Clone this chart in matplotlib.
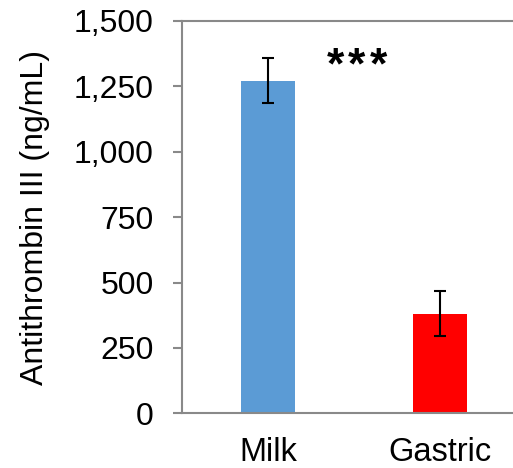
import numpy as np
import matplotlib
matplotlib.use('Agg')
import matplotlib.pyplot as plt

plt.rcParams['font.family'] = ['Liberation Sans', 'DejaVu Sans']

# ── Data ──────────────────────────────────────────────────────────────────────
groups = ['Milk', 'Gastric']
values = [1272, 381]
errors = [85, 85]
colors = ['#5B9BD5', '#FF0000']
yticks = [0, 250, 500, 750, 1000, 1250, 1500]

# ── Plot ──────────────────────────────────────────────────────────────────────
fig = plt.figure(figsize=(5.13, 4.68), dpi=100)
ax = fig.add_axes([182 / 513, 1 - 413.3 / 468, 344 / 513, 392.3 / 468])

x = np.arange(len(groups))
ax.bar(x, values, width=0.314, color=colors, zorder=2)
ax.errorbar(x, values, yerr=errors, fmt='none', ecolor='black',
            elinewidth=1.5, capsize=4.5, capthick=1.5, zorder=3)

# significance marker, letter-spaced like the original
for sx in [0.395, 0.517, 0.642]:
    ax.text(sx, 1280, '*', ha='center', va='baseline',
            fontsize=32, fontweight='bold')

ax.set_xlim(-0.5, 1.5)
ax.set_ylim(0, 1500)
ax.set_yticks(yticks)
ax.set_yticklabels([f'{v:,}' for v in yticks])
ax.set_xticks(x)
ax.set_xticklabels(groups)

gray = '#898989'
for side in ['left', 'bottom', 'top']:
    ax.spines[side].set_color(gray)
    ax.spines[side].set_linewidth(1.5)
ax.spines['right'].set_visible(False)

ax.tick_params(axis='y', direction='out', length=6.5, width=1.5,
               color=gray, pad=14, labelsize=23)
ax.tick_params(axis='x', length=0, pad=17, labelsize=23.5)
ax.set_ylabel('Antithrombin III (ng/mL)', fontsize=23, labelpad=17)

plt.savefig('out.png', dpi=100)
plt.close()
